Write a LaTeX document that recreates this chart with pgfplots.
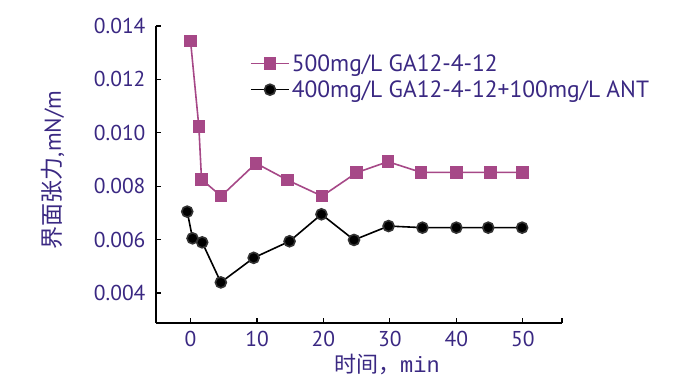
\documentclass[border=0pt]{standalone}
\usepackage{fontspec}
\setmainfont{PT Sans}
\newfontfamily\cjk{Noto Sans CJK SC}
\setmonofont{Liberation Mono}
\usepackage{pgfplots}
\pgfplotsset{compat=1.18}
\definecolor{pinkc}{RGB}{166,72,135}
\definecolor{indigo}{RGB}{58,40,130}
\begin{document}
\begin{tikzpicture}
\useasboundingbox (-156pt,-55pt) rectangle (533pt,323pt);
\begin{axis}[
  at={(0,0)}, anchor=south west, scale only axis,
  width=406pt, height=297pt,
  xmin=-5.2, xmax=55.9, ymin=0.00288, ymax=0.014,
  axis x line*=bottom, axis y line*=left,
  axis line style={line width=1.4pt, black, -},
  xtick={0,10,20,30,40,50},
  ytick={0.004,0.006,0.008,0.010,0.012,0.014},
  extra x ticks={55.9}, extra x tick labels={},
  tick align=inside, major tick length=5pt,
  tick style={line width=1.2pt, black},
  scaled y ticks=false,
  yticklabel style={/pgf/number format/fixed, /pgf/number format/precision=3, /pgf/number format/fixed zerofill, xshift=-7pt},
  xticklabel style={yshift=-5pt},
  /pgf/number format/assume math mode=true,
  ticklabel style={font=\fontsize{21.5}{24}\selectfont, text=indigo},
  every axis y label/.style={at={(axis description cs:-0.254,0.515)}, rotate=90, anchor=center},
  every axis x label/.style={at={(axis description cs:0.569,-0.141)}, anchor=center},
  ylabel={\fontsize{23}{26}\selectfont\color{indigo}{\cjk 界面张力},mN/m},
  xlabel={\fontsize{22}{26}\selectfont\color{indigo}{\cjk 时间，}\ttfamily min},
  legend style={draw=none, fill=none, at={(axis description cs:0.2315,0.912)}, anchor=north west,
    font=\fontsize{23.5}{26}\selectfont, text=indigo, row sep=4pt, inner sep=0pt},
  legend cell align=left,
  legend image code/.code={\draw[mark repeat=2,mark phase=2] plot coordinates {(0pt,0pt) (19pt,0pt) (38pt,0pt)};},
]
\addplot[pinkc, line width=1.6pt, mark=square*, mark size=5.5pt, mark options={fill=pinkc, draw=pinkc}]
coordinates {(0,0.01344) (1.25,0.01023) (1.65,0.00826) (4.6,0.00763) (9.85,0.00886) (14.6,0.00823) (19.8,0.00763) (25.0,0.00851) (29.7,0.00892) (34.7,0.00852) (40.0,0.00852) (45.1,0.00852) (50.0,0.00852)};
\addlegendentry{500mg/L GA12-4-12}
\addplot[black, line width=1.6pt, mark=*, mark size=5.5pt, mark options={fill=black, draw=black!80}]
coordinates {(-0.5,0.00705) (0.3,0.00605) (1.75,0.0059) (4.56,0.0044) (9.5,0.00532) (14.9,0.00594) (19.7,0.00695) (24.6,0.00599) (29.8,0.00651) (34.9,0.00645) (40.0,0.00645) (44.8,0.00645) (49.9,0.00645)};
\addlegendentry{400mg/L GA12-4-12+100mg/L ANT}
\end{axis}
\end{tikzpicture}
\end{document}
